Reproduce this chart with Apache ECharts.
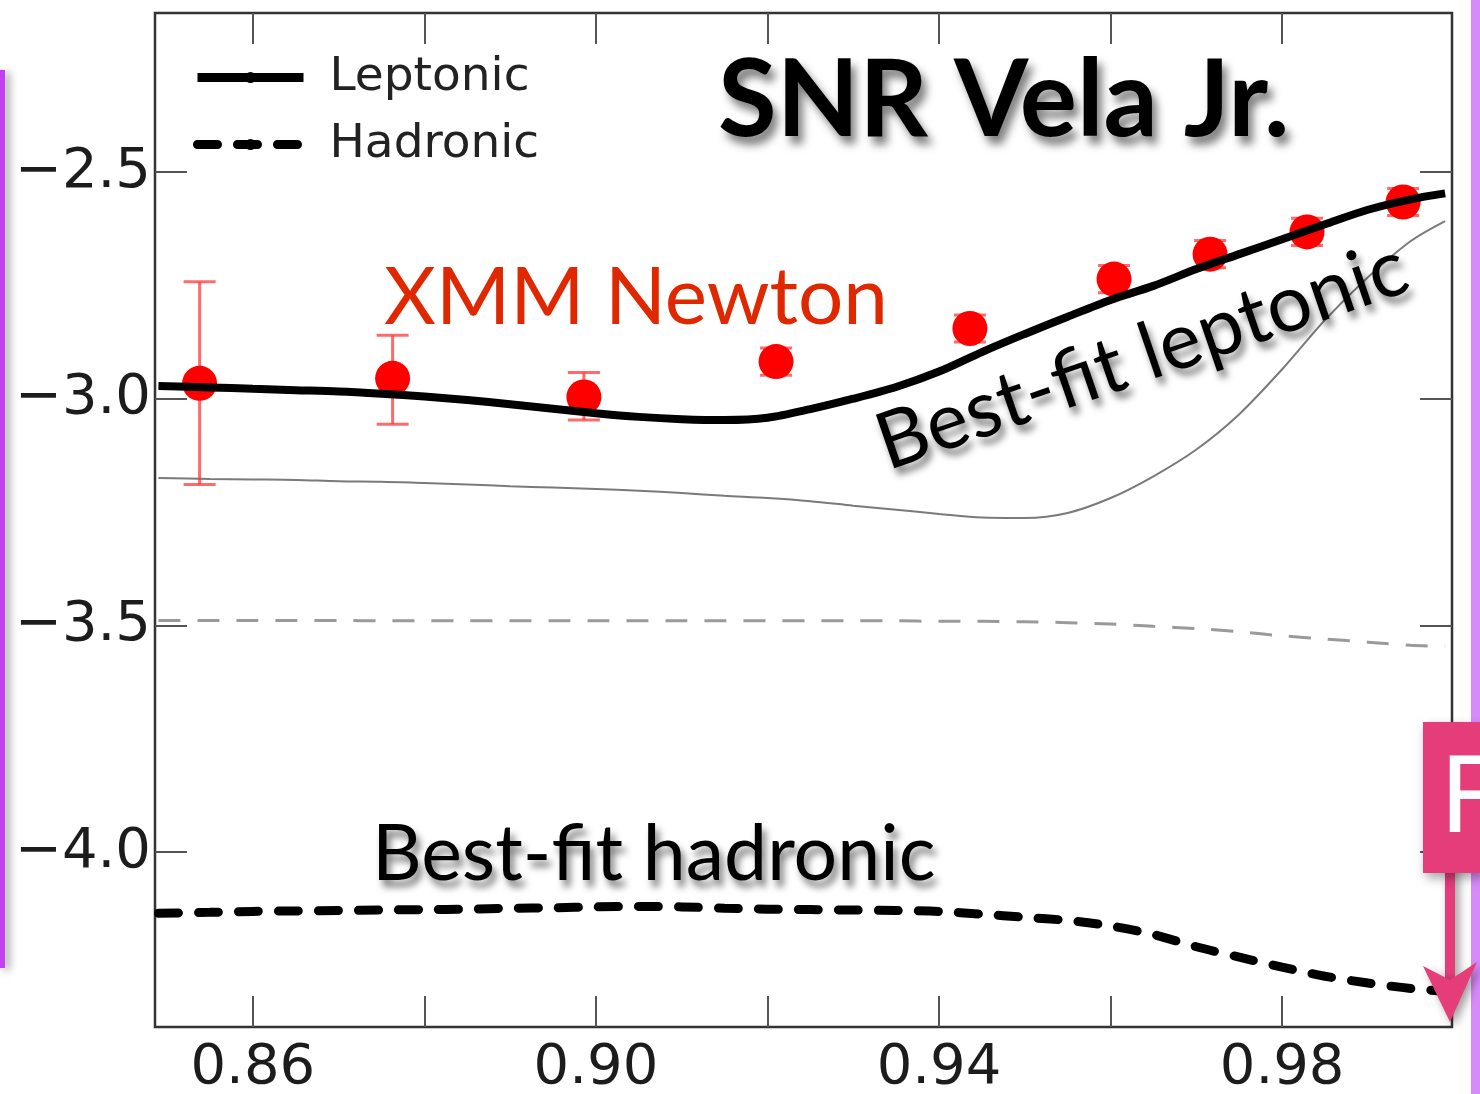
<!DOCTYPE html>
<html>
<head>
<meta charset="utf-8">
<script src="https://cdn.jsdelivr.net/npm/echarts@6/dist/echarts.min.js"></script>
<style>
  html, body { margin: 0; padding: 0; background: #ffffff; }
  #chart { width: 1480px; height: 1094px; }
</style>
</head>
<body>
<div id="chart"></div>
<script>
// Shared abscissa of the model curves
const modelX = [0.849, 0.855, 0.860, 0.865, 0.870, 0.875, 0.880, 0.885, 0.890, 0.895,
                0.900, 0.905, 0.910, 0.915, 0.920, 0.925, 0.930, 0.935, 0.940, 0.945,
                0.950, 0.955, 0.960, 0.965, 0.970, 0.975, 0.980, 0.985, 0.990, 0.995, 0.999];

// Best-fit leptonic model (thick solid)
const leptonicBest = [-2.972, -2.975, -2.978, -2.981, -2.984, -2.989, -2.995, -3.003, -3.012, -3.022,
                      -3.032, -3.040, -3.045, -3.047, -3.042, -3.023, -3.000, -2.974, -2.940, -2.897,
                      -2.857, -2.819, -2.782, -2.751, -2.714, -2.681, -2.648, -2.615, -2.583, -2.560, -2.547];

// Alternative leptonic model (thin grey solid)
const leptonicAlt = [-3.175, -3.177, -3.178, -3.179, -3.182, -3.183, -3.186, -3.189, -3.193, -3.196,
                     -3.199, -3.203, -3.208, -3.214, -3.219, -3.226, -3.236, -3.245, -3.254, -3.262,
                     -3.263, -3.252, -3.219, -3.171, -3.112, -3.034, -2.935, -2.826, -2.732, -2.652, -2.608];

// Best-fit hadronic model (thick dashed)
const hadronicBest = [-4.135, -4.133, -4.131, -4.130, -4.129, -4.128, -4.127, -4.126, -4.124, -4.123,
                      -4.121, -4.120, -4.121, -4.124, -4.126, -4.127, -4.128, -4.129, -4.131, -4.137,
                      -4.144, -4.151, -4.163, -4.182, -4.209, -4.232, -4.254, -4.274, -4.289, -4.301, -4.307];

// Alternative hadronic model (thin grey dashed)
const hadronicAlt = [-3.489, -3.489, -3.489, -3.489, -3.489, -3.490, -3.490, -3.490, -3.490, -3.490,
                     -3.490, -3.490, -3.490, -3.490, -3.490, -3.490, -3.490, -3.490, -3.491, -3.491,
                     -3.492, -3.494, -3.497, -3.502, -3.507, -3.514, -3.523, -3.530, -3.537, -3.544, -3.546];

// XMM-Newton measurements with their error ranges
const xmmX       = [0.8538, 0.8763, 0.8986, 0.9210, 0.9436, 0.9604, 0.9716, 0.9829, 0.9941];
const xmmY       = [-2.966, -2.955, -2.996, -2.918, -2.845, -2.736, -2.681, -2.632, -2.566];
const xmmErrLow  = [-3.189, -3.056, -3.047, -2.948, -2.875, -2.766, -2.711, -2.662, -2.596];
const xmmErrHigh = [-2.742, -2.860, -2.942, -2.888, -2.815, -2.706, -2.651, -2.602, -2.536];

// Axis ticks and labels
const xTickValues  = [0.86, 0.88, 0.90, 0.92, 0.94, 0.96, 0.98];
const xLabelValues = [0.86, 0.90, 0.94, 0.98];
const yTickValues  = [-4.0, -3.5, -3.0, -2.5];
const xRange = [0.8486, 0.9998];
const yRange = [-4.386, -2.149];

const pair = (xs, ys) => xs.map((x, i) => [x, ys[i]]);
const minusFmt = v => (v < 0 ? '\u2212' : '') + Math.abs(v).toFixed(1);

const chart = echarts.init(document.getElementById('chart'), null, { renderer: 'canvas' });

const tickStyle = { color: '#555', width: 2 };
const labelFont = { fontFamily: 'DejaVu Sans', fontSize: 56, color: '#1c1c1c' };

const option = {
  animation: false,
  backgroundColor: '#ffffff',
  grid: {
    left: 155, right: 28, top: 13, bottom: 67,
    outerBoundsMode: 'none', containLabel: false,
    show: true, borderColor: '#333', borderWidth: 2.5, backgroundColor: 'transparent'
  },
  legend: {
    orient: 'vertical',
    left: 188, top: 49,
    itemWidth: 106, itemHeight: 14, itemGap: 20,
    data: ['Leptonic', 'Hadronic'],
    lineStyle: { width: 9 },
    textStyle: { fontFamily: 'DejaVu Sans', fontSize: 47, color: '#222', padding: [0, 0, 0, 21] }
  },
  xAxis: [{
    type: 'value', min: xRange[0], max: xRange[1], position: 'bottom',
    axisLine: { show: false }, splitLine: { show: false },
    axisTick: { show: true, inside: true, length: 31, lineStyle: tickStyle, customValues: xTickValues },
    axisLabel: Object.assign({ show: true, margin: 13, customValues: xLabelValues,
      formatter: v => v.toFixed(2) }, labelFont)
  }, {
    type: 'value', min: xRange[0], max: xRange[1], position: 'top',
    axisLine: { show: false }, splitLine: { show: false },
    axisTick: { show: true, inside: true, length: 31, lineStyle: tickStyle, customValues: xTickValues },
    axisLabel: { show: false }
  }],
  yAxis: [{
    type: 'value', min: yRange[0], max: yRange[1], position: 'left',
    axisLine: { show: false }, splitLine: { show: false },
    axisTick: { show: true, inside: true, length: 32, lineStyle: tickStyle, customValues: yTickValues },
    axisLabel: Object.assign({ show: true, margin: 4, customValues: yTickValues,
      padding: [6, 0, 0, 0], formatter: minusFmt }, labelFont)
  }, {
    type: 'value', min: yRange[0], max: yRange[1], position: 'right',
    axisLine: { show: false }, splitLine: { show: false },
    axisTick: { show: true, inside: true, length: 32, lineStyle: tickStyle, customValues: yTickValues },
    axisLabel: { show: false }
  }],
  series: [
    {
      name: 'Leptonic alt', type: 'line', z: 2,
      data: pair(modelX, leptonicAlt), smooth: 0.3, showSymbol: false, symbol: 'none',
      itemStyle: { color: '#7a7a7a' },
      lineStyle: { color: '#7a7a7a', width: 2 }
    },
    {
      name: 'Hadronic alt', type: 'line', z: 2,
      data: pair(modelX, hadronicAlt), smooth: 0.3, showSymbol: false, symbol: 'none',
      itemStyle: { color: '#9a9a9a' },
      lineStyle: { color: '#9a9a9a', width: 3, type: [22, 17] }
    },
    {
      name: 'XMM error', type: 'custom', z: 3,
      data: xmmX.map((x, i) => [x, xmmErrLow[i], xmmErrHigh[i]]),
      encode: { x: 0, y: [1, 2] },
      renderItem: (params, api) => {
        const x = api.value(0);
        const lo = api.coord([x, api.value(1)]);
        const hi = api.coord([x, api.value(2)]);
        const hw = 16;
        const st = { stroke: 'rgba(255,50,50,0.72)', lineWidth: 3 };
        return {
          type: 'group',
          children: [
            { type: 'line', shape: { x1: hi[0], y1: hi[1], x2: lo[0], y2: lo[1] }, style: st },
            { type: 'line', shape: { x1: hi[0] - hw, y1: hi[1], x2: hi[0] + hw, y2: hi[1] }, style: st },
            { type: 'line', shape: { x1: lo[0] - hw, y1: lo[1], x2: lo[0] + hw, y2: lo[1] }, style: st }
          ]
        };
      }
    },
    {
      name: 'XMM Newton', type: 'scatter', z: 4,
      data: pair(xmmX, xmmY), symbol: 'circle', symbolSize: 35,
      itemStyle: { color: '#ff0000', opacity: 1 }
    },
    {
      name: 'Hadronic', type: 'line', z: 5,
      data: pair(modelX, hadronicBest), smooth: 0.3, showSymbol: false, symbol: 'none',
      itemStyle: { color: '#000' },
      lineStyle: { color: '#000', width: 9, type: [20, 20], cap: 'round' }
    },
    {
      name: 'Leptonic', type: 'line', z: 5,
      data: pair(modelX, leptonicBest), smooth: 0.3, showSymbol: false, symbol: 'none',
      itemStyle: { color: '#000' },
      lineStyle: { color: '#000', width: 8 }
    }
  ],
  graphic: [
    // slide accents
    { type: 'rect', z: 10, shape: { x: 0, y: 70, width: 5, height: 898 },
      style: { fill: '#c23ff2', shadowBlur: 8, shadowColor: 'rgba(0,0,0,0.45)', shadowOffsetX: 4, shadowOffsetY: 2 } },
    { type: 'rect', z: 10, shape: { x: 1471, y: 0, width: 9, height: 1094 },
      style: { fill: '#d88af8' } },
    { type: 'rect', z: 20, shape: { x: 1445, y: 860, width: 10, height: 120 },
      style: { fill: '#e53c7a', shadowBlur: 10, shadowColor: 'rgba(0,0,0,0.4)', shadowOffsetX: 4, shadowOffsetY: 4 } },
    { type: 'polygon', z: 20, shape: { points: [[1423, 966], [1450, 980], [1477, 962], [1450, 1022]] },
      style: { fill: '#e53c7a', shadowBlur: 10, shadowColor: 'rgba(0,0,0,0.4)', shadowOffsetX: 4, shadowOffsetY: 4 } },
    { type: 'rect', z: 21, shape: { x: 1423, y: 722, width: 57, height: 151 },
      style: { fill: '#e53c7a', shadowBlur: 10, shadowColor: 'rgba(0,0,0,0.35)', shadowOffsetX: 3, shadowOffsetY: 5 } },
    { type: 'text', z: 22, x: 1440, y: 797,
      style: { text: 'F', fill: '#ffffff', fontFamily: 'Lato', fontSize: 107, fontWeight: 'normal',
               align: 'left', verticalAlign: 'middle' } },
    // annotations
    { type: 'text', z: 12, x: 718, y: 101,
      style: { text: 'SNR Vela Jr.', fill: '#000', fontFamily: 'Lato', fontWeight: 'bold', fontSize: 107,
               align: 'left', verticalAlign: 'middle',
               textShadowColor: 'rgba(0,0,0,0.5)', textShadowBlur: 8, textShadowOffsetX: 5, textShadowOffsetY: 8 } },
    { type: 'text', z: 12, x: 384, y: 298,
      style: { text: 'XMM Newton', fill: '#e02800', fontFamily: 'Lato', fontSize: 80,
               align: 'left', verticalAlign: 'middle' } },
    { type: 'text', z: 12, x: 1142, y: 356, rotation: 19 * Math.PI / 180,
      style: { text: 'Best-fit leptonic', fill: '#000', fontFamily: 'Lato', fontSize: 79,
               align: 'center', verticalAlign: 'middle',
               textShadowColor: 'rgba(0,0,0,0.5)', textShadowBlur: 7, textShadowOffsetX: 4, textShadowOffsetY: 7 } },
    { type: 'text', z: 12, x: 372, y: 855,
      style: { text: 'Best-fit hadronic', fill: '#000', fontFamily: 'Lato', fontSize: 77,
               align: 'left', verticalAlign: 'middle',
               textShadowColor: 'rgba(0,0,0,0.5)', textShadowBlur: 7, textShadowOffsetX: 4, textShadowOffsetY: 7 } }
  ]
};

chart.setOption(option);
</script>
</body>
</html>
